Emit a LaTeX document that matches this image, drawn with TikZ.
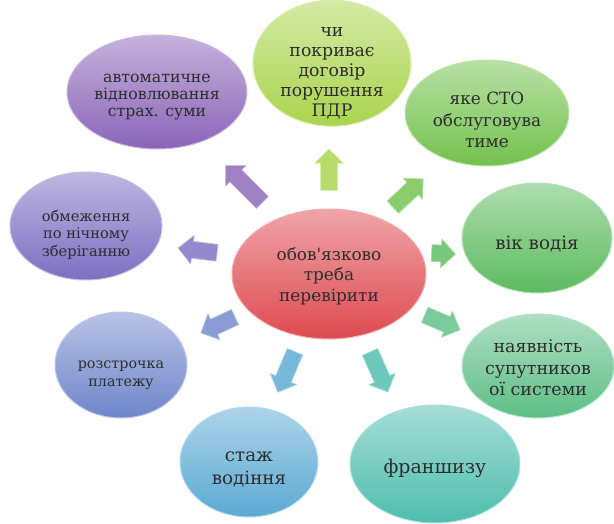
\documentclass[tikz,border=0pt]{standalone}
\usepackage{fontspec}
\setmainfont{DejaVu Serif}
\usetikzlibrary{shapes.geometric}

\definecolor{cRed}{HTML}{DE4A50}
\definecolor{cLime}{HTML}{A9D44C}
\definecolor{cGreen}{HTML}{72C24C}
\definecolor{cGreenB}{HTML}{5CBB5E}
\definecolor{cSea}{HTML}{5DBE85}
\definecolor{cTeal}{HTML}{4DBDAE}
\definecolor{cSky}{HTML}{5AA9D3}
\definecolor{cBlue}{HTML}{6F86CB}
\definecolor{cIris}{HTML}{7C6FC2}
\definecolor{cPurple}{HTML}{8B64B8}

\begin{document}
\begin{tikzpicture}[
    bubble/.style={ellipse, draw=white!55!#1, line width=0.7pt, inner sep=0pt,
      top color=#1!50!white, bottom color=#1},
    words/.style={align=center, text=black!82, inner sep=0pt},
    blockarrow/.style={fill=#1!82!white, draw=#1!50!white, line width=0.5pt,
      line join=round},
  ]
  \useasboundingbox (0,0) rectangle (15.35,13.1);

  % the one in the middle
  \node[bubble=cRed, minimum width=4.85cm, minimum height=3.25cm] (main) at (8.225,6.25) {};
  \node[words, font=\fontsize{12}{14.6}\selectfont] (main-t) at ([yshift=-0.05cm]main)
    {обов\textquotesingle язково\\треба\\перевірити};

  % around it, clockwise from the top
  \node[bubble=cLime, minimum width=3.95cm, minimum height=3.15cm] (cover) at (8.3,11.52) {};
  \node[words, font=\fontsize{12.3}{14.3}\selectfont] (cover-t) at ([yshift=-0.25cm]cover)
    {чи\\покриває\\договір\\порушення\\ПДР};

  \node[bubble=cGreen, minimum width=4.1cm, minimum height=2.65cm] (service) at (12.175,10.275) {};
  \node[words, font=\fontsize{12}{15.3}\selectfont] (service-t) at ([yshift=-0.18cm]service)
    {яке СТО\\обслуговува\\тиме};

  \node[bubble=cGreenB, minimum width=3.75cm, minimum height=2.75cm] (age) at (13.425,7.15) {};
  \node[words, font=\fontsize{13}{15}\selectfont] (age-t) at ([yshift=-0.15cm]age)
    {вік водія};

  \node[bubble=cSea, minimum width=3.8cm, minimum height=2.6cm] (gps) at (13.45,3.95) {};
  \node[words, font=\fontsize{12.4}{15.3}\selectfont] (gps-t) at ([yshift=-0.05cm]gps)
    {наявність\\супутников\\ої системи};

  \node[bubble=cTeal, minimum width=4.25cm, minimum height=2.95cm] (franchise) at (10.875,1.5) {};
  \node[words, font=\fontsize{13.5}{16}\selectfont] (franchise-t) at ([yshift=-0.1cm]franchise)
    {франшизу};

  \node[bubble=cSky, minimum width=3.45cm, minimum height=2.75cm] (experience) at (6.225,1.55) {};
  \node[words, font=\fontsize{13}{16.4}\selectfont] (experience-t) at ([yshift=-0.18cm]experience)
    {стаж\\водіння};

  \node[bubble=cBlue, minimum width=3.3cm, minimum height=2.65cm] (instal) at (3.025,3.975) {};
  \node[words, font=\fontsize{10.2}{12.6}\selectfont] (instal-t) at ([yshift=-0.25cm]instal)
    {розстрочка\\платежу};

  \node[bubble=cIris, minimum width=3.8cm, minimum height=2.7cm] (night) at (2.15,7.45) {};
  \node[words, font=\fontsize{10.4}{12.5}\selectfont] (night-t) at ([yshift=-0.22cm]night)
    {обмеження\\по нічному\\зберіганню};

  \node[bubble=cPurple, minimum width=4.5cm, minimum height=2.85cm] (restore) at (3.925,10.8) {};
  \node[words, font=\fontsize{11.2}{12.2}\selectfont] (restore-t) at ([yshift=-0.12cm]restore)
    {автоматичне\\відновлювання\\страх. суми};

  % block arrows: middle, angle, half length, colour
  \foreach \x/\y/\r/\h/\c in {
      8.225/8.86/90/0.52/cLime,
      10.2/8.275/43/0.52/cGreen,
      11.09/6.76/-3/0.3/cGreenB,
      11.06/5.04/-23/0.48/cSea,
      9.475/3.8/-66/0.55/cTeal,
      7.16/3.8/-113/0.55/cSky,
      5.45/4.975/-155/0.47/cBlue,
      4.94/6.84/173/0.49/cIris,
      6.1/8.5/135/0.65/cPurple}
    \draw[blockarrow=\c, shift={(\x,\y)}, rotate=\r]
      (-\h,-0.21) -- (\h-0.36,-0.21) -- (\h-0.36,-0.36) -- (\h,0)
      -- (\h-0.36,0.36) -- (\h-0.36,0.21) -- (-\h,0.21) -- cycle;
\end{tikzpicture}
\end{document}
